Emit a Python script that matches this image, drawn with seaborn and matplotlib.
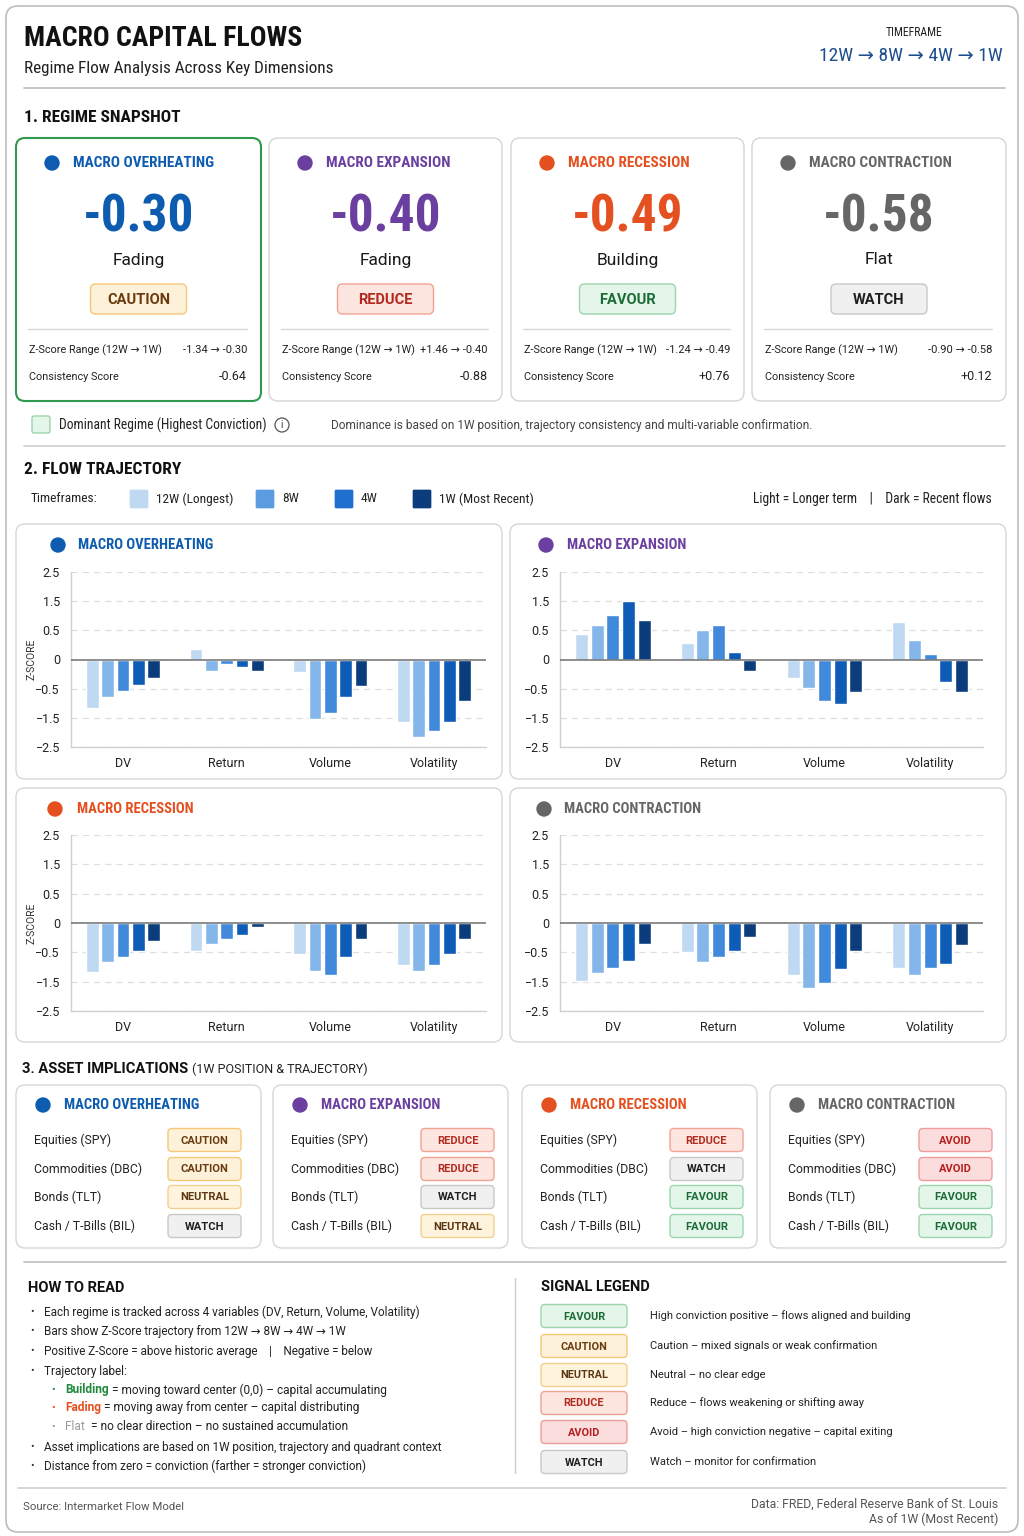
import numpy as np
import pandas as pd
import seaborn as sns
import matplotlib.pyplot as plt
from matplotlib.patches import FancyBboxPatch, Circle
from matplotlib import font_manager

sns.set_theme(style='white')
plt.rcParams['font.family'] = ['Roboto', 'DejaVu Sans']

# pick a narrow family for the headline texts if one is installed
fl = font_manager.fontManager.ttflist
names = {f.name for f in fl}
if 'Roboto Condensed' in names:
    CK = dict(family=['Roboto Condensed', 'DejaVu Sans'])
elif 'Liberation Sans Narrow' in names:
    CK = dict(family=['Liberation Sans Narrow', 'DejaVu Sans'])
elif any(f.name == 'DejaVu Sans' and 'condensed' in str(f.stretch) for f in fl):
    CK = dict(family=['DejaVu Sans'], fontstretch='condensed')
else:
    CK = dict(family=['Roboto', 'DejaVu Sans'])

# ---------------- data ----------------
regimes = ['MACRO OVERHEATING', 'MACRO EXPANSION', 'MACRO RECESSION', 'MACRO CONTRACTION']
regime_colors = ['#0d5cb0', '#6a3fa0', '#e4501f', '#666666']
scores = ['-0.30', '-0.40', '-0.49', '-0.58']
trajectory = ['Fading', 'Fading', 'Building', 'Flat']
signals = ['CAUTION', 'REDUCE', 'FAVOUR', 'WATCH']
z_ranges = ['-1.34 → -0.30', '+1.46 → -0.40', '-1.24 → -0.49', '-0.90 → -0.58']
consistency = ['-0.64', '-0.88', '+0.76', '+0.12']

variables = ['DV', 'Return', 'Volume', 'Volatility']
timeframes = ['12W', '8W', '4W', '2W', '1W']
bar_colors = ['#c0d9f2', '#84b6ea', '#4189da', '#0e5cb6', '#0b3c7c']

z_overheating = [[-1.17, -0.77, -0.59, -0.44, -0.31],
                 [0.18, -0.19, -0.08, -0.13, -0.20],
                 [-0.21, -1.53, -1.34, -0.79, -0.46],
                 [-1.64, -2.17, -1.95, -1.63, -0.92]]
z_expansion = [[0.43, 0.70, 1.03, 1.51, 0.85],
               [0.28, 0.52, 0.68, 0.13, -0.19],
               [-0.31, -0.49, -0.92, -1.02, -0.60],
               [0.78, 0.34, 0.10, -0.39, -0.62]]
z_recession = [[-1.17, -0.83, -0.66, -0.48, -0.31],
               [-0.47, -0.35, -0.27, -0.20, -0.07],
               [-0.55, -1.13, -1.26, -0.67, -0.28],
               [-0.92, -1.14, -0.92, -0.56, -0.28]]
z_contraction = [[-1.48, -1.22, -1.02, -0.81, -0.36],
                 [-0.49, -0.84, -0.66, -0.48, -0.24],
                 [-1.27, -1.73, -1.53, -1.08, -0.48],
                 [-1.02, -1.27, -1.02, -0.89, -0.38]]

y_ticks = [2.5, 1.5, 0.5, 0, -0.5, -1.5, -2.5]
y_ticklabels = ['2.5', '1.5', '0.5', '0', '−0.5', '−1.5', '−2.5']

assets = ['Equities (SPY)', 'Commodities (DBC)', 'Bonds (TLT)', 'Cash / T-Bills (BIL)']
asset_signals = [['CAUTION', 'CAUTION', 'NEUTRAL', 'WATCH'],
                 ['REDUCE', 'REDUCE', 'WATCH', 'NEUTRAL'],
                 ['REDUCE', 'WATCH', 'FAVOUR', 'FAVOUR'],
                 ['AVOID', 'AVOID', 'FAVOUR', 'FAVOUR']]

legend_signals = ['FAVOUR', 'CAUTION', 'NEUTRAL', 'REDUCE', 'AVOID', 'WATCH']
legend_desc = ['High conviction positive – flows aligned and building',
               'Caution – mixed signals or weak confirmation',
               'Neutral – no clear edge',
               'Reduce – flows weakening or shifting away',
               'Avoid – high conviction negative – capital exiting',
               'Watch – monitor for confirmation']

SIG = {'FAVOUR': ('#e4f5ea', '#9dd5ae', '#1b6b35'),
       'CAUTION': ('#fef1d9', '#f5c878', '#6a3a10'),
       'NEUTRAL': ('#fef4de', '#f4d08e', '#5c3713'),
       'REDUCE': ('#fde5e0', '#f0a391', '#b22a1e'),
       'AVOID': ('#fcdddd', '#ee9c9c', '#b51f1f'),
       'WATCH': ('#f0f0f0', '#c8c8c8', '#1e1e1e')}

# ---------------- canvas ----------------
W, H = 1024, 1536
fig = plt.figure(figsize=(W / 100, H / 100), dpi=100)
fig.patch.set_facecolor('white')
bg = fig.add_axes([0, 0, 1, 1])
bg.set_xlim(0, W)
bg.set_ylim(H, 0)
bg.axis('off')


def box(x0, y0, x1, y1, fc='white', ec='#d6d6d6', lw=1.0, r=8, z=1):
    bg.add_patch(FancyBboxPatch((x0, y0), x1 - x0, y1 - y0,
                                boxstyle=f'round,pad=0,rounding_size={r}',
                                fc=fc, ec=ec, lw=lw, zorder=z))


def txt(x, y, s, size, color='#222222', weight='normal', ha='left', cond=False, **kw):
    fk = dict(CK) if cond else {}
    return bg.text(x, y, s, fontsize=size, color=color, fontweight=weight,
                   ha=ha, va='center', zorder=6, **fk, **kw)


def hline(y, x0, x1, color='#cfcfcf', lw=1.0):
    bg.plot([x0, x1], [y, y], color=color, lw=lw, zorder=2)


def badge(x0, y0, x1, y1, sig, size, r=4):
    fc, ec, tc = SIG[sig]
    box(x0, y0, x1, y1, fc, ec, 1.0, r, z=3)
    txt((x0 + x1) / 2, (y0 + y1) / 2 + 0.5, sig, size, tc, 'bold', ha='center')


def dot(x, y, c, r=7):
    bg.add_patch(Circle((x, y), r, color=c, zorder=4))


renderer = fig.canvas.get_renderer()


def segments(x, y, parts, size):
    for s, c, w in parts:
        t = txt(x, y, s, size, c, w)
        bb = t.get_window_extent(renderer=renderer)
        x += bb.width


# outer frame
box(6, 6, 1018, 1532, 'white', '#bdbdbd', 1.2, 12, z=0)

# header
txt(24, 38, 'MACRO CAPITAL FLOWS', 20, '#111111', 'bold', cond=True)
txt(24, 68, 'Regime Flow Analysis Across Key Dimensions', 12.3, '#222222', cond=True)
txt(914, 33, 'TIMEFRAME', 8.5, '#222222', cond=True, ha='center')
txt(1003, 56, '12W → 8W → 4W → 1W', 14, '#1d4f8f', ha='right', cond=True)
hline(88, 24, 1005, '#bdbdbd', 1.2)

# 1. regime snapshot
txt(24, 117, '1. REGIME SNAPSHOT', 12.5, '#111111', 'bold', cond=True)
card_x = [(16, 261), (269, 502), (511, 744), (752, 1006)]
for i, (x0, x1) in enumerate(card_x):
    cx = (x0 + x1) / 2
    if i == 0:
        box(x0, 138, x1, 401, 'white', '#2e9a4e', 1.5, 9, z=1)
    else:
        box(x0, 138, x1, 401, 'white', '#d4d4d4', 1.0, 9, z=1)
    dot(x0 + 36, 163, regime_colors[i])
    txt(x0 + 57, 163, regimes[i], 11, regime_colors[i], 'bold', cond=True)
    txt(cx, 218, scores[i], 37, regime_colors[i], 'bold', ha='center', cond=True)
    txt(cx, 260, trajectory[i], 12.5, '#1a1a1a', ha='center')
    badge(cx - 48, 284, cx + 48, 314, signals[i], 10.5, r=5)
    hline(329, x0 + 12, x1 - 14, '#d6d6d6')
    txt(x0 + 13, 350, 'Z-Score Range (12W → 1W)', 7.8, '#222222')
    txt(x1 - 14, 350, z_ranges[i], 8, '#222222', ha='right')
    txt(x0 + 13, 377, 'Consistency Score', 7.8, '#222222')
    txt(x1 - 14, 376, consistency[i], 9, '#222222', ha='right')

box(32, 416, 50, 433, '#e4f5ea', '#9dd5ae', 1.0, 2, z=2)
txt(59, 425, 'Dominant Regime (Highest Conviction)', 9.8, '#222222', cond=True)
bg.add_patch(Circle((282, 425), 7, fc='white', ec='#555555', lw=0.9, zorder=4))
txt(282, 425.5, 'i', 7.5, '#444444', ha='center')
txt(331, 425, 'Dominance is based on 1W position, trajectory consistency and multi-variable confirmation.',
    8.55, '#444444')
hline(446, 24, 1005, '#cfcfcf', 1.2)

# 2. flow trajectory
txt(24, 470, '2. FLOW TRAJECTORY', 12.5, '#111111', 'bold', cond=True)
txt(31, 499, 'Timeframes:', 9.6, '#222222', cond=True)
leg = [(130, bar_colors[0], '12W (Longest)'), (256, '#5b9be0', '8W'),
       (335, '#1f6fcf', '4W'), (413, bar_colors[4], '1W (Most Recent)')]
for lx, lc, lt in leg:
    box(lx, 490, lx + 18, 508, lc, lc, 0.5, 1, z=2)
    txt(lx + 26, 499, lt, 9.6, '#222222', cond=True)
txt(992, 499, 'Light = Longer term    |    Dark = Recent flows', 9.8, '#222222', ha='right', cond=True)

panels = [(16, 524, 502, 779), (510, 524, 1006, 779),
          (16, 788, 502, 1042), (510, 788, 1006, 1042)]
plots = [(71, 572, 486, 747), (560, 572, 983, 747),
         (71, 835, 486, 1011), (560, 835, 983, 1011)]
title_off = [(42, 62), (36, 57), (39, 61), (34, 54)]
regime_z = [z_overheating, z_expansion, z_recession, z_contraction]

tick_idx = np.array([-3.0, -2.0, -1.0, 0.0, 1.0, 2.0, 3.0])
tick_val = np.array(sorted(y_ticks), dtype=float)


def fwd(y):
    return np.interp(y, tick_val, tick_idx)


def inv(t):
    return np.interp(t, tick_idx, tick_val)


for i in range(4):
    px0, py0, px1, py1 = panels[i]
    box(px0, py0, px1, py1, 'white', '#d6d6d6', 1.0, 9, z=1)
    dx, tx = title_off[i]
    dot(px0 + dx, py0 + 21, regime_colors[i])
    txt(px0 + tx, py0 + 21, regimes[i], 10.5, regime_colors[i], 'bold', cond=True)

    rows = [(v, tf, z) for v, zs in zip(variables, regime_z[i]) for tf, z in zip(timeframes, zs)]
    df = pd.DataFrame(rows, columns=['variable', 'timeframe', 'z'])

    x0, y0, x1, y1 = plots[i]
    ax = fig.add_axes([x0 / W, 1 - y1 / H, (x1 - x0) / W, (y1 - y0) / H])
    ax.set_facecolor('none')
    sns.barplot(data=df, x='variable', y='z', hue='timeframe', palette=bar_colors,
                saturation=1, width=0.74, gap=0.17, legend=False, ax=ax, zorder=3)
    ax.set_yscale('function', functions=(fwd, inv))
    ax.set_ylim(-2.5, 2.5)
    ax.set_xlim(-0.5, 3.5)
    ax.set_yticks(y_ticks)
    ax.set_yticklabels(y_ticklabels)
    ax.tick_params(axis='y', labelsize=9, colors='#222222', length=0, pad=8)
    ax.tick_params(axis='x', labelsize=9, colors='#222222', length=0, pad=7)
    for yt in y_ticks:
        if yt != 0:
            ax.axhline(yt, color='#dedede', lw=0.9, ls=(0, (5, 4)), zorder=1)
    ax.axhline(0, color='#7a7a7a', lw=1.2, zorder=4)
    for side in ['top', 'right']:
        ax.spines[side].set_visible(False)
    for side in ['left', 'bottom']:
        ax.spines[side].set_color('#d0d0d0')
        ax.spines[side].set_linewidth(1.0)
    ax.set_xlabel('')
    if i % 2 == 0:
        ax.set_ylabel('Z-SCORE', fontsize=7.5, color='#333333')
        ax.yaxis.set_label_coords(-0.083, 0.5)
    else:
        ax.set_ylabel('')

# 3. asset implications
t = txt(22, 1069, '3. ASSET IMPLICATIONS', 10.5, '#111111', 'bold')
bb = t.get_window_extent(renderer=renderer)
txt(22 + bb.width + 4, 1069, '(1W POSITION & TRAJECTORY)', 9, '#222222')
acards = [(16, 261), (273, 508), (522, 757), (770, 1006)]
badge_x = [168, 421, 670, 919]
row_y = [1140, 1169, 1197, 1226]
for i, (x0, x1) in enumerate(acards):
    box(x0, 1085, x1, 1248, 'white', '#d6d6d6', 1.0, 9, z=1)
    dot(x0 + 27, 1105, regime_colors[i])
    txt(x0 + 48, 1105, regimes[i], 10.5, regime_colors[i], 'bold', cond=True)
    for a, s, ry in zip(assets, asset_signals[i], row_y):
        txt(x0 + 18, ry, a, 8.8, '#222222')
        badge(badge_x[i], ry - 11.5, badge_x[i] + 73, ry + 11.5, s, 8, r=4)

hline(1262, 24, 1006, '#bdbdbd', 1.2)

# how to read
txt(28, 1288, 'HOW TO READ', 10.5, '#111111', 'bold')
bullets = [(1312, 'Each regime is tracked across 4 variables (DV, Return, Volume, Volatility)'),
           (1331, 'Bars show Z-Score trajectory from 12W → 8W → 4W → 1W'),
           (1351, 'Positive Z-Score = above historic average    |    Negative = below'),
           (1371, 'Trajectory label:'),
           (1447, 'Asset implications are based on 1W position, trajectory and quadrant context'),
           (1466, 'Distance from zero = conviction (farther = stronger conviction)')]
for by, bt in bullets:
    txt(32, by, '•', 7.5, '#333333', ha='center')
    txt(44, by, bt, 8.5, '#222222')
subs = [(1390, '#1f8a3b', [('Building', '#1f8a3b', 'bold'),
                           (' = moving toward center (0,0) – capital accumulating', '#222222', 'normal')]),
        (1408, '#e4501f', [('Fading', '#e4501f', 'bold'),
                           (' = moving away from center – capital distributing', '#222222', 'normal')]),
        (1427, '#9a9a9a', [('Flat', '#9a9a9a', 'normal'),
                           ('  = no clear direction – no sustained accumulation', '#222222', 'normal')])]
for sy, sc, parts in subs:
    txt(53, sy, '•', 7.5, sc, ha='center')
    segments(65, sy, parts, 8.6)

bg.plot([515, 515], [1278, 1473], color='#cfcfcf', lw=1.0, zorder=2)

# signal legend
txt(541, 1287, 'SIGNAL LEGEND', 10.5, '#111111', 'bold')
leg_y = [1316, 1346, 1375, 1403, 1432, 1462]
for s, d, ly in zip(legend_signals, legend_desc, leg_y):
    badge(541, ly - 11.5, 627, ly + 11.5, s, 7.8, r=4)
    txt(650, ly, d, 8, '#222222')

# footer
hline(1488, 18, 1006, '#cfcfcf', 1.2)
txt(23, 1507, 'Source: Intermarket Flow Model', 8.2, '#555555')
txt(998, 1504, 'Data: FRED, Federal Reserve Bank of St. Louis', 8.8, '#555555', ha='right')
txt(998, 1519, 'As of 1W (Most Recent)', 8.8, '#555555', ha='right')

fig.savefig('out.png', dpi=100, facecolor='white')
